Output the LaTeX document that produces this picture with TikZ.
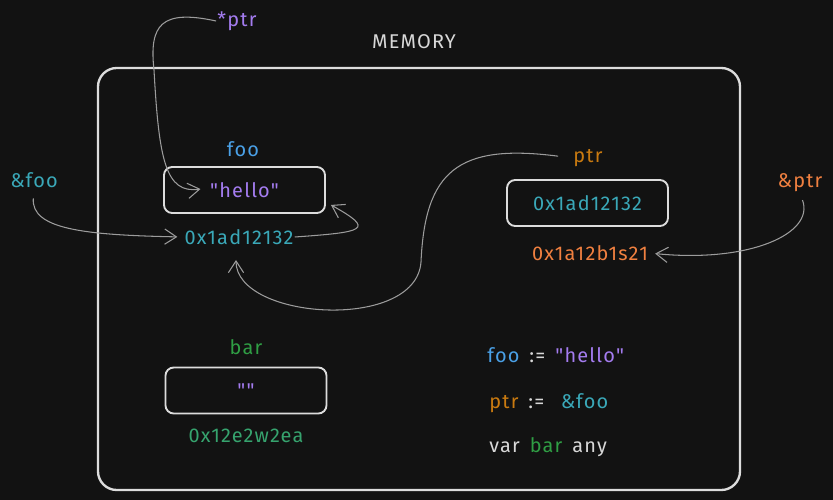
\documentclass[tikz,border=0pt]{standalone}
\usepackage{fontspec}
\setmainfont{Fira Sans}[Ligatures=TeXOff, LetterSpace=6]
\usetikzlibrary{arrows.meta,positioning,calc}
\definecolor{bgc}{HTML}{121212}
\definecolor{framec}{HTML}{DCDCDC}
\definecolor{wirec}{HTML}{9C9C9C}
\definecolor{fooc}{HTML}{4AA0E6}
\definecolor{helloc}{HTML}{A47CF0}
\definecolor{addrc}{HTML}{3AA8B8}
\definecolor{ptrc}{HTML}{C97A10}
\definecolor{refc}{HTML}{F08040}
\definecolor{barc}{HTML}{2F9E44}
\definecolor{baraddrc}{HTML}{36A36E}
\definecolor{textc}{HTML}{D8D8D8}

\begin{document}
\begin{tikzpicture}[x=0.03cm,y=-0.03cm,
	txt/.style={font=\fontsize{17}{20}\selectfont, inner sep=1pt},
	cell/.style={txt, draw=framec, line width=1.6pt, rounded corners=7pt, minimum width=4.83cm, minimum height=1.38cm, inner sep=0pt},
	link/.style={wirec, line width=0.9pt, -{Straight Barb[length=10pt,width=13pt]}}]
			\fill[bgc] (0,0) rectangle (833,500);
			\node[draw=framec, line width=2pt, rounded corners=16pt, minimum width=19.26cm, minimum height=12.66cm] (mem) at (419,279) {};
			\node[txt, textc] (memlbl) at (414,42) {MEMORY};
			
			\node[txt, helloc] (sptr) at (237,21) {*ptr};
			\node[txt, fooc] (foolbl) at (243,149) {foo};
			\node[cell, text=helloc] (fooval) at (244.5,190) {"hello"};
			\node[txt, addrc] (addr) at (239,237) {0x1ad12132};
			\node[txt, addrc] (afoo) at (34,180) {\&foo};
			
			\node[txt, ptrc] (ptrlbl) at (588,158) {ptr};
			\node[cell, text=addrc] (ptrval) at (587.5,203) {0x1ad12132};
			\node[txt, refc] (ptraddr) at (590,253) {0x1a12b1s21};
			\node[txt, refc] (aptr) at (800,183) {\&ptr};
			
			\node[txt, barc] (barlbl) at (246,347) {bar};
			\node[cell, text=helloc] (barval) at (246,390.5) {""};
			\node[txt, baraddrc] (baraddr) at (246,436) {0x12e2w2ea};
			
			\node[txt, textc, anchor=west] (leg1) at (486,355) {\textcolor{fooc}{foo}\enspace:=\enspace\textcolor{helloc}{"hello"}};
			\node[txt, textc, anchor=west] (leg2) at (488,403) {\textcolor{ptrc}{ptr}\enspace:=\enspace\ \textcolor{addrc}{\&foo}};
			\node[txt, textc, anchor=west] (leg3) at (488,447) {var\enspace\textcolor{barc}{bar}\enspace any};
			
			\coordinate (sbend) at (154,70);
			\coordinate (pbend) at (421,262);
			\draw[link] (sptr.west) .. controls +(-55,-12) and +(-5,-45) .. (sbend) .. controls +(5,90) and +(-35,5) .. ($(fooval)+(-44,-1)$);
			\draw[link] (addr.east) .. controls +(70,-5) and +(45,25) .. ($(fooval.south east)+(5,-9)$);
			\draw[link, shorten <=8pt, shorten >=5pt] (afoo.south) .. controls +(-3,40) and +(-100,-2) .. (addr.west);
			\draw[link, shorten <=12pt] (ptrlbl.west) .. controls +(-115,-15) and +(4,-90) .. (pbend) .. controls +(-5,70) and +(0,60) .. ($(addr.south)+(-3,14)$);
			\draw[link, shorten <=6pt, shorten >=5pt] (aptr.south) .. controls +(15,40) and +(100,10) .. (ptraddr.east);
\end{tikzpicture}
\end{document}
